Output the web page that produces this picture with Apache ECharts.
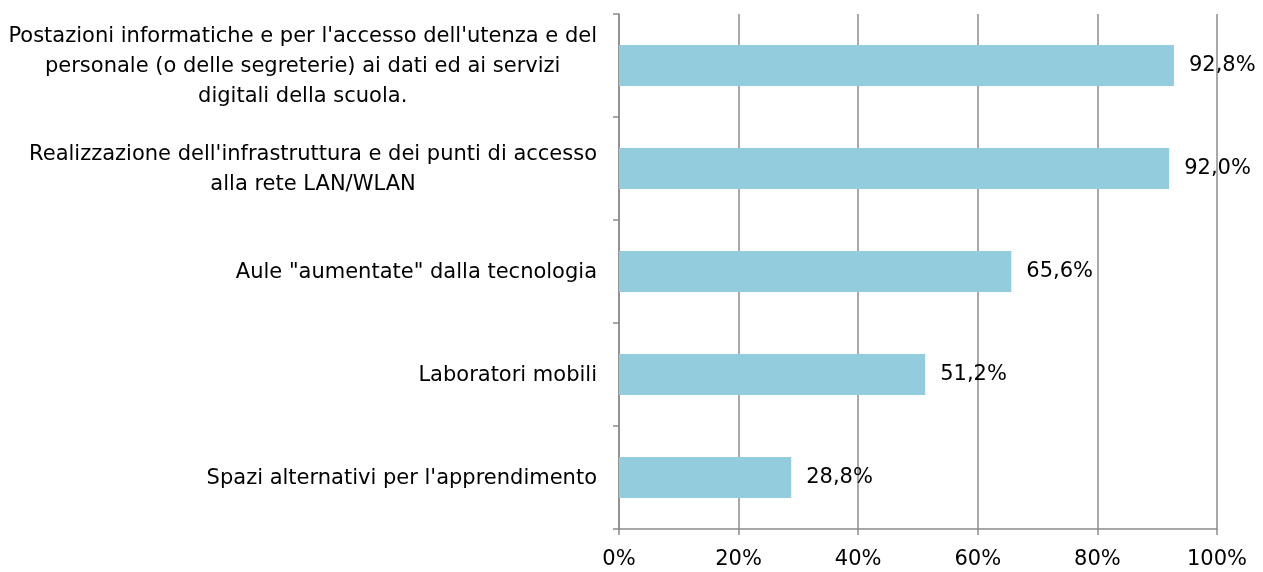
<!DOCTYPE html>
<html><head><meta charset="utf-8">
<script src="https://cdn.jsdelivr.net/npm/echarts@6/dist/echarts.min.js"></script>
<style>html,body{margin:0;padding:0;background:#fff}#c{width:1263px;height:572px}</style>
</head><body><div id="c"></div>
<script>
const categories = [
  "Postazioni informatiche e per l'accesso dell'utenza e del\npersonale (o delle segreterie) ai dati ed ai servizi\ndigitali della scuola.",
  "Realizzazione dell'infrastruttura e dei punti di accesso\nalla rete LAN/WLAN",
  "Aule \"aumentate\" dalla tecnologia",
  "Laboratori mobili",
  "Spazi alternativi per l'apprendimento"
];
const values = [92.8, 92.0, 65.6, 51.2, 28.8];
const xTicks = [0, 20, 40, 60, 80, 100];

const FONT = "DejaVu Sans";
const FS = 21;
const chart = echarts.init(document.getElementById('c'));
chart.setOption({
  animation: false,
  textStyle: {fontFamily: FONT},
  grid: {left: 619, right: 46, top: 14, bottom: 43, containLabel: false},
  xAxis: {
    type: 'value', min: xTicks[0], max: xTicks[xTicks.length-1], interval: 20,
    axisLine: {show: true, lineStyle: {color: '#8c8c8c', width: 1.5}},
    axisTick: {show: true, length: 6, lineStyle: {color: '#8c8c8c', width: 1.5}},
    splitLine: {show: true, lineStyle: {color: '#8c8c8c', width: 1.5}},
    axisLabel: {color: '#000', fontSize: FS, fontFamily: FONT, margin: 20, formatter: v => v + '%'}
  },
  yAxis: {
    type: 'category', data: categories, inverse: true,
    axisLine: {show: true, lineStyle: {color: '#8c8c8c', width: 1.5}},
    axisTick: {show: true, length: 6, lineStyle: {color: '#8c8c8c', width: 1.5}},
    splitLine: {show: false},
    axisLabel: {
      color: '#000', fontSize: FS, fontFamily: FONT, margin: 22,
      formatter: v => v.split('\n').map(l => '{a|' + l + '}').join('\n'),
      rich: {a: {align: 'center', fontSize: FS, lineHeight: 30, fontFamily: FONT, color: '#000', padding: [3, 0, 0, 0]}}
    }
  },
  series: [{
    type: 'bar', data: values, barCategoryGap: '60%',
    itemStyle: {color: '#93cddd'},
    label: {show: true, position: 'right', distance: 15, color: '#000', fontSize: FS, fontFamily: FONT,
      formatter: p => p.value.toFixed(1).replace('.', ',') + '%'}
  }]
});
</script></body></html>
